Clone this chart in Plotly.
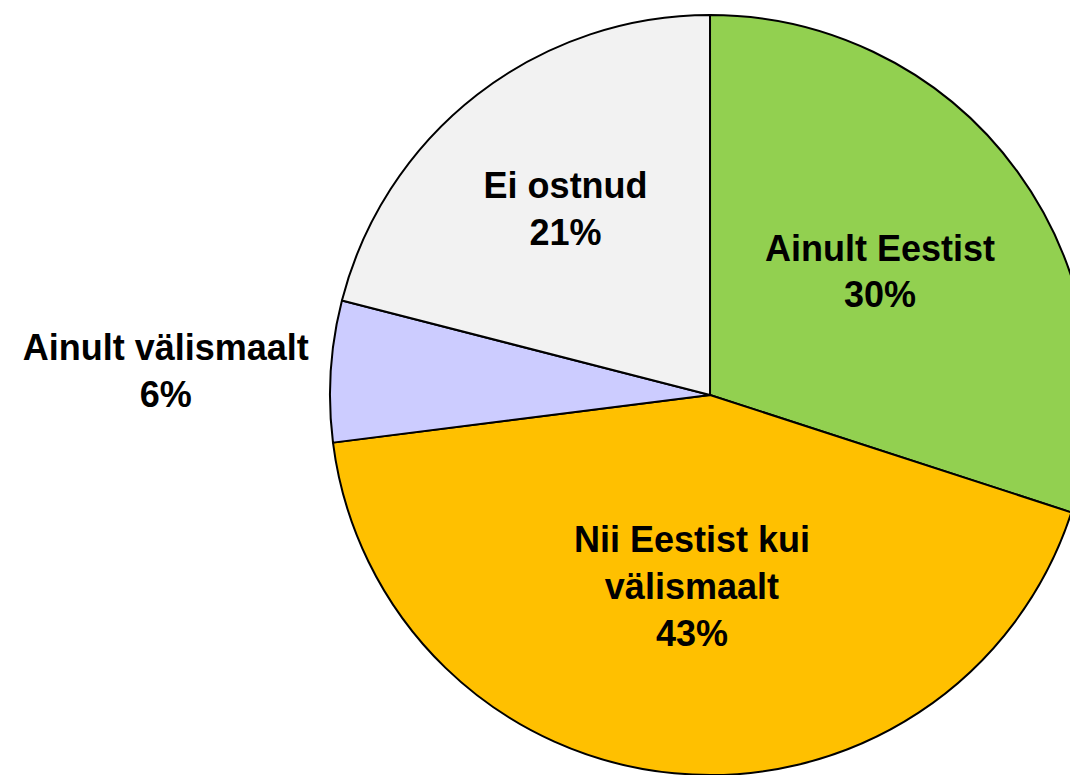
import plotly.graph_objects as go

labels = ["Ainult Eestist", "Nii Eestist kui<br>välismaalt", "Ainult välismaalt", "Ei ostnud"]
values = [30, 43, 6, 21]
colors = ["#92D050", "#FFC000", "#CCCCFF", "#F2F2F2"]
positions = ["inside", "inside", "outside", "inside"]

fig = go.Figure(go.Pie(
    labels=labels,
    values=values,
    sort=False,
    direction="clockwise",
    rotation=0,
    marker=dict(colors=colors, line=dict(color="black", width=2)),
    texttemplate="%{label}<br>%{value}%",
    textposition=positions,
    insidetextorientation="horizontal",
    textfont=dict(family="Liberation Sans, Arial, sans-serif", size=36, color="black", weight="bold"),
    showlegend=False,
    hoverinfo="label+value",
    domain=dict(x=[0.2954, 0.9927], y=[0.0103, 0.991]),
))

fig.update_layout(
    width=1090,
    height=775,
    margin=dict(l=0, r=0, t=0, b=0),
    paper_bgcolor="white",
    plot_bgcolor="white",
)

fig.write_html("out.html")
